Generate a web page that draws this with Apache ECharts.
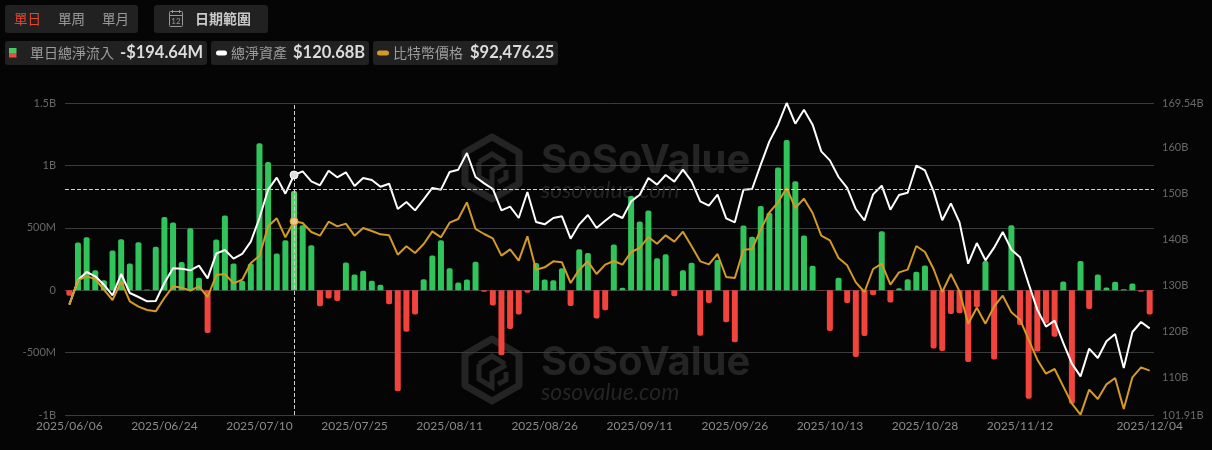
<!DOCTYPE html>
<html><head><meta charset="utf-8">
<style>html,body{margin:0;padding:0;background:#050505}#c{width:1212px;height:450px}</style>
<script src="https://cdn.jsdelivr.net/npm/echarts@6/dist/echarts.min.js"></script>
</head><body><div id="c"></div>
<script>
const dates=["2025/06/06","2025/06/09","2025/06/10","2025/06/11","2025/06/12","2025/06/13","2025/06/16","2025/06/17","2025/06/18","2025/06/20","2025/06/23","2025/06/24","2025/06/25","2025/06/26","2025/06/27","2025/06/30","2025/07/01","2025/07/02","2025/07/03","2025/07/07","2025/07/08","2025/07/09","2025/07/10","2025/07/11","2025/07/14","2025/07/15","2025/07/16","2025/07/17","2025/07/18","2025/07/21","2025/07/22","2025/07/23","2025/07/24","2025/07/25","2025/07/28","2025/07/29","2025/07/30","2025/07/31","2025/08/01","2025/08/04","2025/08/05","2025/08/06","2025/08/07","2025/08/08","2025/08/11","2025/08/12","2025/08/13","2025/08/14","2025/08/15","2025/08/18","2025/08/19","2025/08/20","2025/08/21","2025/08/22","2025/08/25","2025/08/26","2025/08/27","2025/08/28","2025/08/29","2025/09/02","2025/09/03","2025/09/04","2025/09/05","2025/09/08","2025/09/09","2025/09/10","2025/09/11","2025/09/12","2025/09/15","2025/09/16","2025/09/17","2025/09/18","2025/09/19","2025/09/22","2025/09/23","2025/09/24","2025/09/25","2025/09/26","2025/09/29","2025/09/30","2025/10/01","2025/10/02","2025/10/03","2025/10/06","2025/10/07","2025/10/08","2025/10/09","2025/10/10","2025/10/13","2025/10/14","2025/10/15","2025/10/16","2025/10/17","2025/10/20","2025/10/21","2025/10/22","2025/10/23","2025/10/24","2025/10/27","2025/10/28","2025/10/29","2025/10/30","2025/10/31","2025/11/03","2025/11/04","2025/11/05","2025/11/06","2025/11/07","2025/11/10","2025/11/11","2025/11/12","2025/11/13","2025/11/14","2025/11/17","2025/11/18","2025/11/19","2025/11/20","2025/11/21","2025/11/24","2025/11/25","2025/11/26","2025/11/28","2025/12/01","2025/12/02","2025/12/03","2025/12/04"];
// daily total net inflow, $M
const netInflow=[-45,382,425,160,80,318,409,214,385,5,348,586,543,225,497,99,-342,406,599,214,75,214,1177,1027,294,401,794,521,361,-128,-67,-86,222,126,155,75,43,-112,-810,-332,-195,88,278,401,176,62,86,227,-13,-123,-521,-310,-195,-21,217,86,80,176,-126,329,299,-227,-160,366,19,754,551,639,257,289,-48,160,219,-364,-102,241,-257,-417,519,428,674,620,984,1203,872,439,195,-2,-326,99,-102,-535,-366,-40,473,-99,16,88,147,198,-468,-487,-190,-185,-575,-136,233,-556,1,521,-278,-869,-492,-267,-372,70,-909,233,-150,126,21,67,8,53,-13,-194.64];
// total net assets, $B
const netAssets=[125.83,131.10,132.91,131.97,130.16,127.85,132.47,128.36,127.49,126.55,126.62,130.52,133.70,133.63,133.27,134.28,131.53,136.88,137.68,135.80,136.81,139.48,144.61,150.75,153.36,149.89,153.93,154.73,152.56,151.69,154.87,153.43,154.51,151.55,153.28,152.85,151.40,152.05,146.56,148.08,146.27,148.66,151.12,150.75,154.58,155.09,158.70,153.50,152.13,150.90,146.27,147.07,144.61,150.25,143.75,143.24,144.61,144.97,140.13,143.24,145.26,142.44,144.03,145.48,144.61,148.22,149.67,153.28,151.84,153.93,152.49,155.09,152.56,148.22,147.29,149.67,144.54,143.67,150.75,150.90,156.17,161.23,164.84,169.54,165.06,168.09,164.84,159.06,157.11,153.50,151.12,146.56,144.11,149.74,151.62,146.42,149.60,150.10,155.96,154.94,150.39,144.11,147.79,143.67,134.71,139.19,135.44,138.18,141.58,137.75,136.09,130.31,124.74,121.06,122.36,117.52,113.04,110.29,116.29,114.27,117.88,119.47,112.10,119.90,122.07,120.68];
// bitcoin price, $
const btcPrice=[104119,108411,109117,108646,106765,104942,108235,104707,103766,103178,102943,105295,107353,107118,106588,107353,105471,109352,109528,107882,108529,111469,112762,117937,119348,115996,118819,118525,116937,116290,118760,117937,118407,116290,117643,117114,116526,116349,112939,114409,113233,114820,117055,115996,118584,119230,122170,117466,116584,115820,112762,113880,111880,116173,110293,110704,111763,111586,107941,110293,111763,109528,111175,111822,111175,113409,114115,116055,114879,116349,115232,116996,114409,111763,111234,113056,108999,108823,113821,113938,117349,120406,122170,124699,121171,122817,120289,116290,115467,112351,111057,108058,106353,110410,111351,107647,109822,110293,114468,113409,110410,106353,109528,106471,100767,103590,100767,103825,105706,102766,101473,97945,94417,91947,92770,89713,86655,84715,89125,87478,90066,91183,85714,91300,93064,92476.25];
const rightTicks=[101.91,110,120,130,140,150,160,169.54];
const activeDate="2025/07/16";
const crossValue=810;

const fontLat="Lato,'Noto Sans CJK TC',sans-serif";
const fontCjk="'Noto Sans CJK TC','Noto Sans',sans-serif";
const idx=dates.indexOf(activeDate);

function box(x,y,w,h){return{type:'rect',shape:{x,y,width:w,height:h,r:3},style:{fill:'#212121'},z:1};}
function txt(t,x,y,size,fill,weight,family){return{type:'text',x,y,style:{text:t,fill,font:(weight||'normal')+' '+size+'px '+(family||fontCjk),textVerticalAlign:'middle',textAlign:'left'},z:2};}
function watermark(cx,cy){
  const r=31,hw=27;const c='#242424';
  const hex=[[cx,cy-r],[cx+hw,cy-r/2],[cx+hw,cy+r/2],[cx,cy+r],[cx-hw,cy+r/2],[cx-hw,cy-r/2]];
  return [
    {type:'polygon',shape:{points:hex},style:{fill:'none',stroke:c,lineWidth:7,lineJoin:'round'},z:-1,silent:true},
    {type:'polyline',shape:{points:[[cx-13,cy-6],[cx,cy-14],[cx+13,cy-6]]},style:{fill:'none',stroke:c,lineWidth:5},z:-1,silent:true},
    {type:'polyline',shape:{points:[[cx-13,cy-6],[cx-13,cy+9],[cx,cy+17],[cx,cy+3],[cx+14,cy-5]]},style:{fill:'none',stroke:c,lineWidth:5},z:-1,silent:true},
    {type:'polyline',shape:{points:[[cx+14,cy+2],[cx+14,cy+10],[cx+6,cy+14]]},style:{fill:'none',stroke:c,lineWidth:5},z:-1,silent:true},
    {type:'text',x:cx+49,y:cy-7,style:{text:'SoSoValue',fill:c,font:'bold 40px Inter,"Liberation Sans",sans-serif',textVerticalAlign:'middle'},z:-1,silent:true},
    {type:'text',x:cx+49,y:cy+23,style:{text:'sosovalue.com',fill:c,font:'italic 23px Lato,sans-serif',textVerticalAlign:'middle'},z:-1,silent:true}
  ];
}
const calendar=[
  {type:'rect',shape:{x:169.5,y:11.5,width:13,height:15,r:1},style:{fill:'none',stroke:'#999',lineWidth:1},z:2},
  {type:'line',shape:{x1:169,y1:15.5,x2:183,y2:15.5},style:{stroke:'#999',lineWidth:1},z:2},
  {type:'line',shape:{x1:172.5,y1:10,x2:172.5,y2:13},style:{stroke:'#999',lineWidth:1},z:2},
  {type:'line',shape:{x1:179.5,y1:10,x2:179.5,y2:13},style:{stroke:'#999',lineWidth:1},z:2},
  {type:'text',x:176,y:21,style:{text:'12',fill:'#999',font:'8px Lato',textAlign:'center',textVerticalAlign:'middle'},z:2}
];
const chrome=[
  box(5,5,133,28),box(154,5,114,28),
  txt('單日',14,19,13.5,'#e8452c'),txt('單周',58,19,13.5,'#9a9a9a'),txt('單月',102,19,13.5,'#9a9a9a'),
  ...calendar,
  txt('日期範圍',195,19,14,'#c8c8c8','bold'),
  box(5,41,202,24),box(211,41,158,24),box(373,41,185,24),
  {type:'rect',shape:{x:9,y:48,width:7.5,height:5},style:{fill:'#4cc765'},z:2},
  {type:'rect',shape:{x:9,y:53,width:7.5,height:4.5},style:{fill:'#ee4a3e'},z:2},
  txt('單日總淨流入',30,53,14,'#9c9c9c'),txt('-$194.64M',120,53,16.5,'#dcdcdc','bold',fontLat),
  {type:'rect',shape:{x:216,y:50.5,width:11,height:5,r:2.5},style:{fill:'#fff'},z:2},
  txt('總淨資產',231,53,14,'#9c9c9c'),txt('$120.68B',293,53,16.5,'#dcdcdc','bold',fontLat),
  {type:'rect',shape:{x:377,y:50.5,width:12,height:5,r:2.5},style:{fill:'#d49a26'},z:2},
  txt('比特幣價格',393,53,14,'#9c9c9c'),txt('$92,476.25',470,53,16.5,'#dcdcdc','bold',fontLat),
  ...watermark(492,168),...watermark(492,370)
];

const chart=echarts.init(document.getElementById('c'));
chart.setOption({
  animation:false,backgroundColor:'#050505',
  graphic:{elements:chrome},
  grid:{left:65,right:58,top:103,bottom:35,containLabel:false},
  xAxis:{type:'category',data:dates,boundaryGap:true,
    axisLine:{show:false},axisTick:{show:false},
    axisLabel:{color:'#8a8a8a',fontSize:12,fontFamily:'Lato',margin:5,letterSpacing:0.5,showMinLabel:true,showMaxLabel:true,
      interval:(i)=>(i%11===0&&i<=110)||i===dates.length-1}},
  yAxis:[
    {type:'value',min:-1000,max:1500,interval:500,position:'left',axisLine:{show:false},axisTick:{show:false},
      splitLine:{lineStyle:{color:'#3c3c3c',width:1}},
      axisLabel:{color:'#686868',fontSize:11,fontFamily:'Lato',margin:9,padding:[0,0,2,0],
        formatter:v=>v===0?'0':Math.abs(v)>=1000?(v/1000)+'B':v+'M'}},
    {type:'value',min:101.91,max:169.54,position:'right',axisLine:{show:false},axisTick:{show:false},splitLine:{show:false},
      axisLabel:{color:'#686868',fontSize:11,fontFamily:'Lato',margin:8,padding:[0,0,2,0],customValues:rightTicks,
        formatter:v=>v+'B'}},
    {type:'value',min:84656,max:139693,show:false,splitLine:{show:false}}
  ],
  series:[
    {name:'單日總淨流入',type:'bar',yAxisIndex:0,barWidth:6,
     data:netInflow.map((v,i)=>({value:v,itemStyle:{
       color:v>=0?(i===idx?'#4cd964':'#31c45a'):'#f0443c',
       borderRadius:v>=0?[2,2,0,0]:[0,0,2,2]}})),
     markLine:{silent:true,symbol:'none',label:{show:false},
       lineStyle:{color:'#cfcfcf',type:'dashed',width:1},
       data:[{xAxis:activeDate},{yAxis:crossValue}]}},
    {name:'總淨資產',type:'line',yAxisIndex:1,data:netAssets,showSymbol:false,symbol:'none',lineStyle:{color:'#fff',width:2},
     markPoint:{silent:true,symbol:'circle',symbolSize:8,label:{show:false},itemStyle:{color:'#ddd',borderColor:'#fff',borderWidth:1},
       data:[{coord:[activeDate,netAssets[idx]]}]}},
    {name:'比特幣價格',type:'line',yAxisIndex:2,data:btcPrice,showSymbol:false,symbol:'none',lineStyle:{color:'#d49a26',width:2},
     markPoint:{silent:true,symbol:'circle',symbolSize:8,label:{show:false},itemStyle:{color:'#e8c987',borderColor:'#d49a26',borderWidth:1},
       data:[{coord:[activeDate,btcPrice[idx]]}]}}
  ]
});
</script></body></html>
